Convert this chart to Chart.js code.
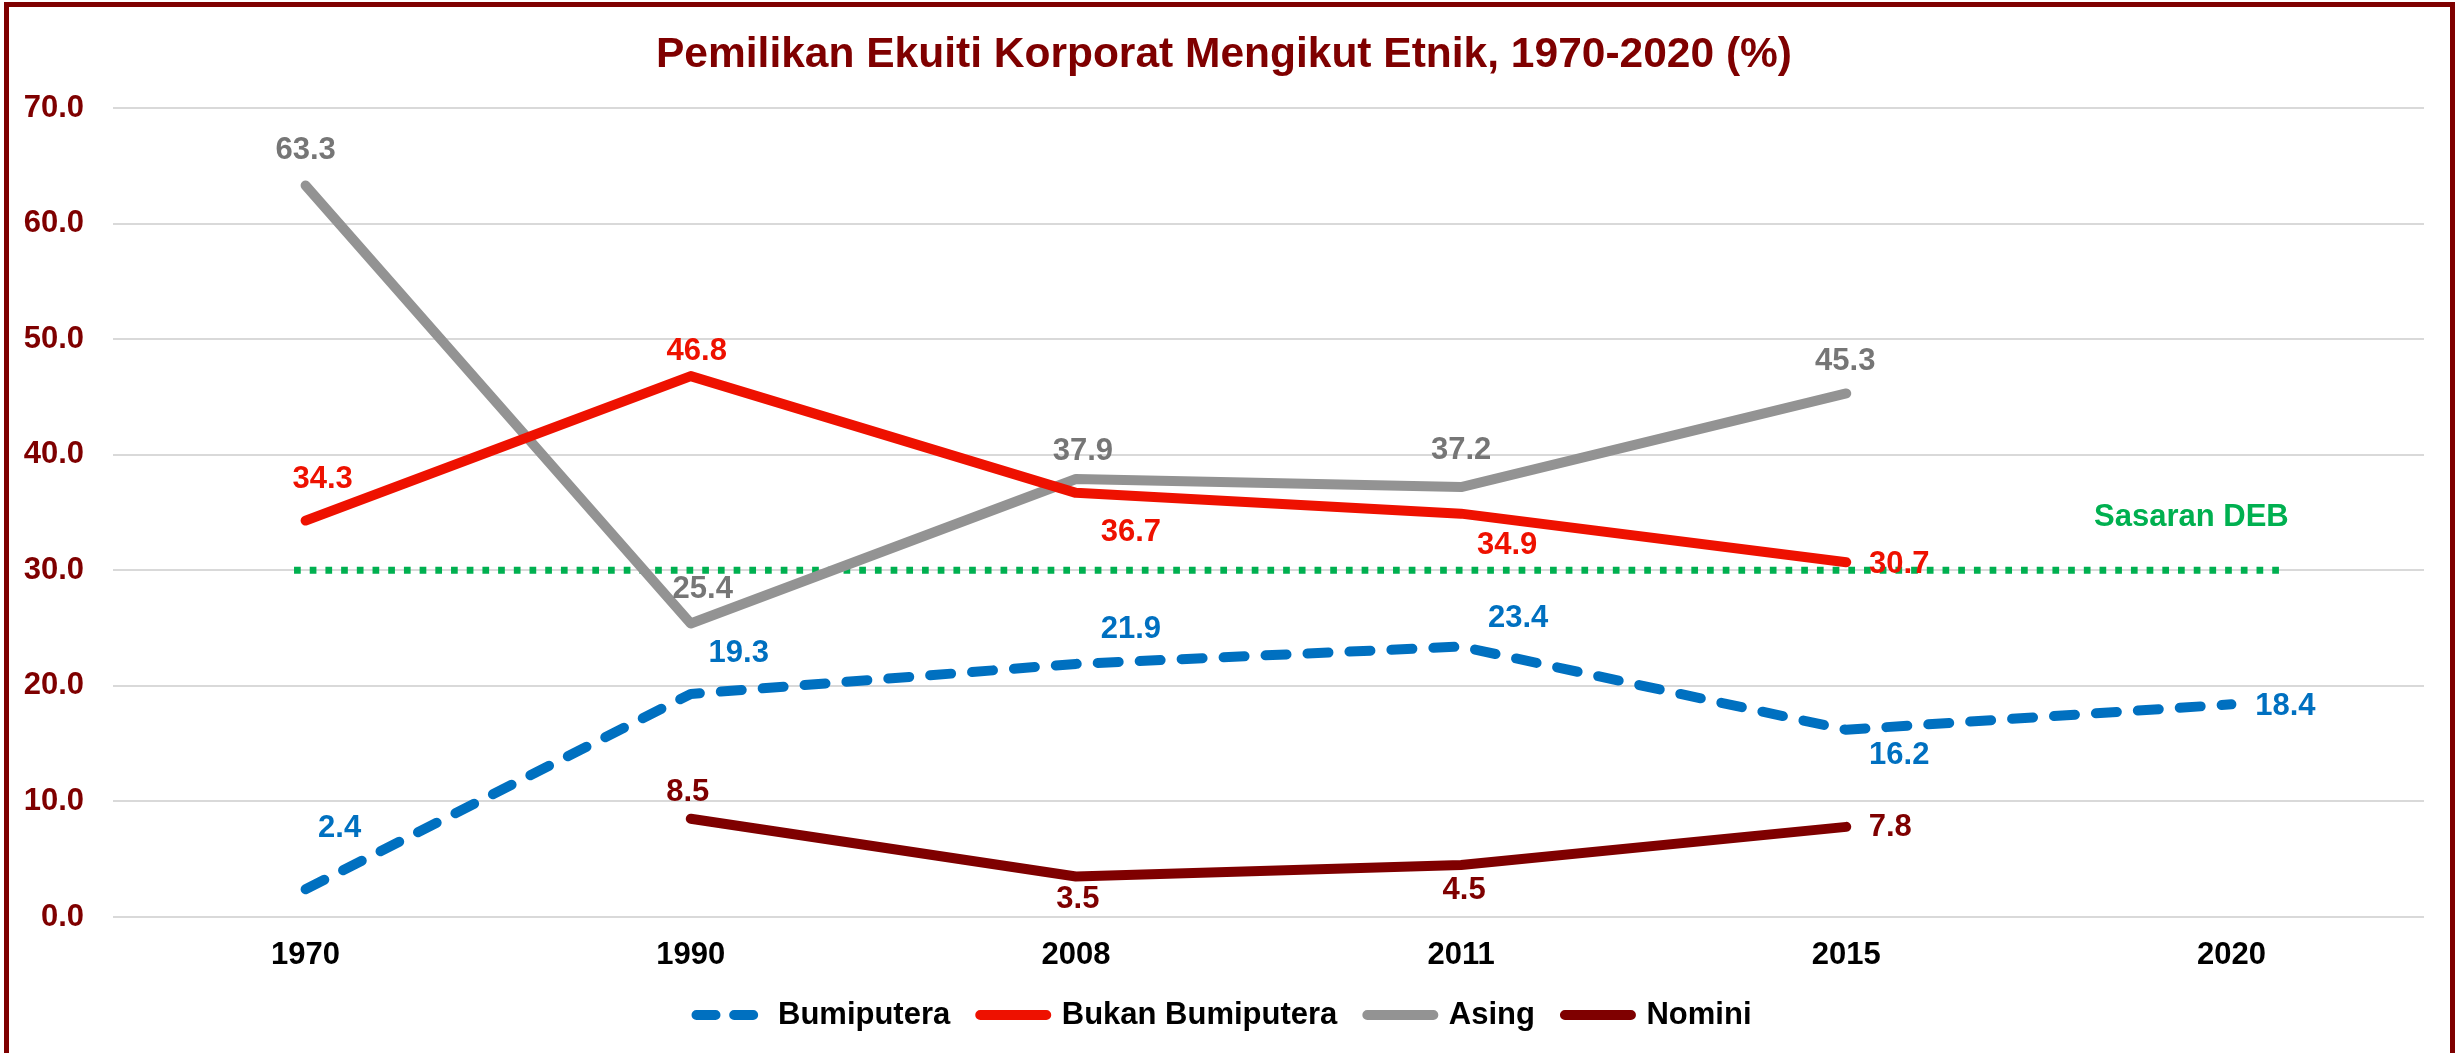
<!DOCTYPE html>
<html>
<head>
<meta charset="utf-8">
<title>Pemilikan Ekuiti Korporat Mengikut Etnik</title>
<script src="https://cdn.jsdelivr.net/npm/chart.js@4.4.0/dist/chart.umd.min.js"></script>
<style>
  html, body { margin: 0; padding: 0; background: #fff; overflow: hidden; }
  #wrap { position: absolute; left: 0; top: 0; width: 2455px; height: 1053px; }
  #frame { position: absolute; left: 4px; top: 2px; width: 2451px; height: 1100px;
           border: 5px solid #7f0000; box-sizing: border-box; pointer-events: none; }
</style>
</head>
<body>
<div id="wrap"><canvas id="equityChart"></canvas></div>
<div id="frame"></div>
<script>
// data (%)
const years = ['1970', '1990', '2008', '2011', '2015', '2020'];
const bumiputera = [2.4, 19.3, 21.9, 23.4, 16.2, 18.4];
const bukanBumiputera = [34.3, 46.8, 36.7, 34.9, 30.7, null];
const asing = [63.3, 25.4, 37.9, 37.2, 45.3, null];
const nomini = [null, 8.5, 3.5, 4.5, 7.8, null];
const yTicks = [0, 10, 20, 30, 40, 50, 60, 70];

// NEP (DEB) 30% target line, drawn on a hidden index axis so it can run past 2020
const sasaranDEB = 30;
const sasaranSpan = [-0.03, 5.14];

// where each value label sits relative to its point (px)
const labelOffsets = [
    [[34, -61], [48, -40], [55, -34], [57, -28], [53, 26], [54, 2]],
    [[17, -41], [6, -25], [55, 40], [46, 32], [53, 2], null],
    [[0, -35], [12, -34], [7, -28], [0, -37], [-1, -32], null],
    [null, [-3, -26], [2, 23], [3, 25], [44, 1], null],
    [null, [-94, -53]],
];

const FONT = '"Liberation Sans", Arial, sans-serif';
Chart.defaults.font.family = FONT;

// draws the number next to each point
const valueLabels = {
    id: 'valueLabels',
    afterDatasetsDraw(chart) {
        const ctx = chart.ctx;
        chart.data.datasets.forEach((ds, di) => {
            const meta = chart.getDatasetMeta(di);
            meta.data.forEach((pt, i) => {
                const off = labelOffsets[di][i];
                let v = ds.data[i];
                if (v !== null && typeof v === 'object') v = v.y;
                if (!off || v === null) return;
                const text = ds.labelText ? ds.labelText : v.toFixed(1);
                ctx.save();
                ctx.font = 'bold 31px ' + FONT;
                ctx.fillStyle = ds.labelColor;
                ctx.textAlign = 'center';
                ctx.textBaseline = 'middle';
                ctx.fillText(text, pt.x + off[0], pt.y + off[1]);
                ctx.restore();
            });
        });
    }
};

function makeChart() {
    const ctx = document.getElementById('equityChart').getContext('2d');

    new Chart(ctx, {
        type: 'line',
        data: {
            labels: years,
            datasets: [{
                label: 'Bumiputera',
                data: bumiputera,
                borderColor: '#0070c0',
                backgroundColor: '#0070c0',
                borderDash: [21, 21],
                legendDash: [19, 18.67],
                labelColor: '#0070c0',
            }, {
                label: 'Bukan Bumiputera',
                data: bukanBumiputera,
                borderColor: '#ee1100',
                backgroundColor: '#ee1100',
                labelColor: '#ee1100',
            }, {
                label: 'Asing',
                data: asing,
                borderColor: '#939393',
                backgroundColor: '#939393',
                labelColor: '#767676',
            }, {
                label: 'Nomini',
                data: nomini,
                borderColor: '#7f0000',
                backgroundColor: '#7f0000',
                labelColor: '#7f0000',
            }, {
                label: 'Sasaran DEB',
                data: sasaranSpan.map(x => ({ x: x, y: sasaranDEB })),
                xAxisID: 'xTarget',
                borderColor: '#00b050',
                borderWidth: 7,
                borderDash: [6.7, 9],
                borderCapStyle: 'butt',
                labelColor: '#00b050',
                labelText: 'Sasaran DEB',
                order: 5,
            }].map(ds => Object.assign({
                borderWidth: 10,
                borderCapStyle: 'round',
                borderJoinStyle: 'round',
                pointRadius: 0,
                tension: 0,
                fill: false,
                spanGaps: false,
            }, ds)),
        },
        options: {
            responsive: true,
            maintainAspectRatio: false,
            animation: false,
            layout: { padding: { left: 24, right: 31, top: 0, bottom: 12.5 } },
            plugins: {
                title: {
                    display: true,
                    text: 'Pemilikan Ekuiti Korporat Mengikut Etnik, 1970-2020 (%)',
                    color: '#7f0000',
                    font: { size: 42.5, weight: 'bold' },
                    padding: { top: 30, bottom: 27 },
                },
                legend: {
                    position: 'bottom',
                    labels: {
                        color: '#000',
                        font: { size: 31, weight: 'bold' },
                        boxWidth: 66,
                        boxHeight: 0,
                        padding: 30,
                        filter: item => item.datasetIndex < 4,
                        generateLabels(chart) {
                            return chart.data.datasets.map((ds, i) => ({
                                text: ds.label,
                                datasetIndex: i,
                                fillStyle: ds.borderColor,
                                strokeStyle: ds.borderColor,
                                fontColor: '#000',
                                lineWidth: 10,
                                lineCap: 'round',
                                lineJoin: 'round',
                                lineDash: ds.legendDash || [],
                                hidden: false,
                            }));
                        },
                    },
                },
                tooltip: { enabled: false },
            },
            scales: {
                x: {
                    offset: true,
                    grid: { display: false, drawTicks: false },
                    border: { display: false },
                    ticks: {
                        color: '#000',
                        font: { size: 31, weight: 'bold', lineHeight: 0.8 },
                        padding: 25.6,
                        maxRotation: 0,
                    },
                    afterFit: scale => { scale.height = 52.5; },
                },
                xTarget: {
                    type: 'linear',
                    display: false,
                    min: -0.5,
                    max: years.length - 0.5,
                },
                y: {
                    min: 0,
                    max: 70,
                    afterBuildTicks: scale => {
                        scale.ticks = yTicks.map(v => ({ value: v }));
                    },
                    afterFit: scale => { scale.width = 89; },
                    grid: { color: '#d9d9d9', lineWidth: 2, drawTicks: false },
                    border: { display: false },
                    ticks: {
                        color: '#7f0000',
                        font: { size: 31, weight: 'bold' },
                        padding: 29,
                        callback: v => Number(v).toFixed(1),
                    },
                },
            },
        },
        plugins: [valueLabels],
    });
}

makeChart();
</script>
</body>
</html>
